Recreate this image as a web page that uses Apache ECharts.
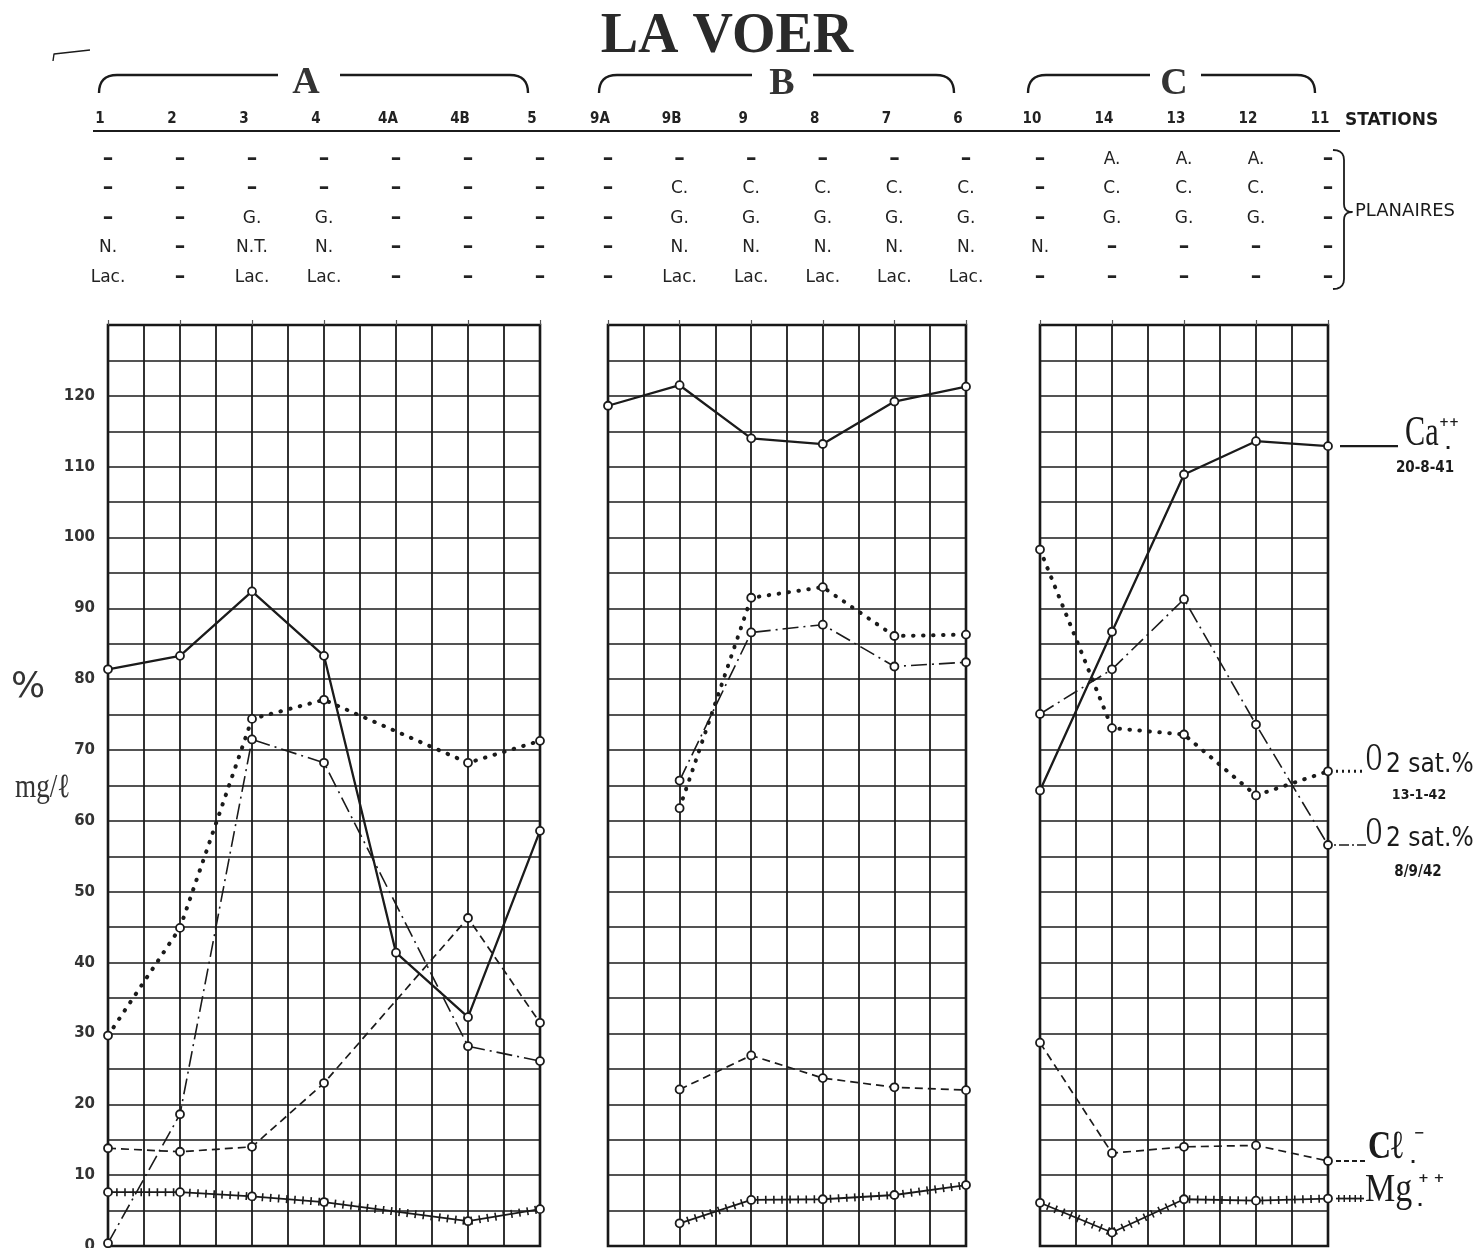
<!DOCTYPE html>
<html><head><meta charset="utf-8">
<script src="https://cdn.jsdelivr.net/npm/echarts@6/dist/echarts.min.js"></script>
<style>html,body{margin:0;padding:0;background:#fff;}#c{width:1476px;height:1248px;}</style>
</head><body><div id="c"></div>
<script>
// ---------------- DATA ----------------
const stationsA = ['1','2','3','4','4A','4B','5'];
const stationsB = ['9A','9B','9','8','7','6'];
const stationsC = ['10','14','13','12','11'];

// Planaires found at each station (5 rows)
const planairesA = [
  ['–','–','–','N.','Lac.'],
  ['–','–','–','–','–'],
  ['–','–','G.','N.T.','Lac.'],
  ['–','–','G.','N.','Lac.'],
  ['–','–','–','–','–'],
  ['–','–','–','–','–'],
  ['–','–','–','–','–']
];
const planairesB = [
  ['–','–','–','–','–'],
  ['–','C.','G.','N.','Lac.'],
  ['–','C.','G.','N.','Lac.'],
  ['–','C.','G.','N.','Lac.'],
  ['–','C.','G.','N.','Lac.'],
  ['–','C.','G.','N.','Lac.']
];
const planairesC = [
  ['–','–','–','N.','–'],
  ['A.','C.','G.','–','–'],
  ['A.','C.','G.','–','–'],
  ['A.','C.','G.','–','–'],
  ['–','–','–','–','–']
];

// Ca++ (20-8-41), mg/l
const caA = [81.4, 83.3, 92.4, 83.3, 41.4, 32.3, 58.6];
const caB = [118.6, 121.5, 114.0, 113.2, 119.2, 121.3];
const caC = [64.3, 86.7, 108.9, 113.6, 112.9];
// O2 sat.% (13-1-42)
const o2JanA = [29.7, 44.9, 74.4, 77.1, null, 68.2, 71.3];
const o2JanB = [null, 61.8, 91.5, 93.0, 86.1, 86.3];
const o2JanC = [98.3, 73.1, 72.2, 63.6, 67.0];
// O2 sat.% (8/9/42)
const o2SepA = [0.4, 18.6, 71.5, 68.2, null, 28.2, 26.1];
const o2SepB = [null, 65.7, 86.6, 87.7, 81.8, 82.4];
const o2SepC = [75.1, 81.4, 91.3, 73.6, 56.6];
// Cl-
const clA = [13.8, 13.3, 14.0, 23.0, null, 46.3, 31.5];
const clB = [null, 22.1, 26.9, 23.7, 22.4, 22.0];
const clC = [28.7, 13.1, 14.0, 14.2, 12.0];
// Mg++
const mgA = [7.6, 7.6, 7.0, 6.2, null, 3.5, 5.2];
const mgB = [null, 3.2, 6.5, 6.6, 7.2, 8.6];
const mgC = [6.1, 1.9, 6.6, 6.4, 6.7];

const yLabelValues = [0,10,20,30,40,50,60,70,80,90,100,110,120];

// ---------------- CHART ----------------
const INK = '#1b1b1b';
const panels = [
  {stations: stationsA, plan: planairesA, ca: caA, o2Jan: o2JanA, o2Sep: o2SepA, cl: clA, mg: mgA},
  {stations: stationsB, plan: planairesB, ca: caB, o2Jan: o2JanB, o2Sep: o2SepB, cl: clB, mg: mgB},
  {stations: stationsC, plan: planairesC, ca: caC, o2Jan: o2JanC, o2Sep: o2SepC, cl: clC, mg: mgC}
];
const gridBoxes = [
  {left: 108, width: 432},
  {left: 608, width: 358},
  {left: 1040, width: 288}
];

const pts = arr => arr.map((v, i) => v == null ? null : [i, v]).filter(Boolean);
const marker = {color: '#fff', borderColor: INK, borderWidth: 1.8};

const grid = [], xAxis = [], yAxis = [], series = [];
panels.forEach((p, k) => {
  const n = p.stations.length - 1;
  grid.push({left: gridBoxes[k].left, width: gridBoxes[k].width, top: 325, bottom: 2,
    outerBoundsMode: 'none', containLabel: false,
    show: true, borderColor: '#111', borderWidth: 2.6, backgroundColor: 'transparent'});
  // main axis: vertical grid every half station
  xAxis.push({gridIndex: k, type: 'value', min: 0, max: n, interval: 0.5, position: 'bottom',
    axisLine: {show: false}, axisTick: {show: false}, axisLabel: {show: false},
    splitLine: {show: true, lineStyle: {color: INK, width: 1.8}}});
  // station names
  xAxis.push({gridIndex: k, type: 'value', min: 0, max: n, interval: 1, position: 'top',
    axisLine: {show: false}, splitLine: {show: false},
    axisTick: {show: true, length: 5, lineStyle: {color: '#555', width: 1.2}},
    axisLabel: {margin: 198, color: '#222', fontSize: 15, fontWeight: 'bold',
      fontFamily: '"DejaVu Sans Condensed","DejaVu Sans",sans-serif',
      padding: [0, 16, 0, 0],
      formatter: v => p.stations[v] || ''}});
  // planaires rows
  xAxis.push({gridIndex: k, type: 'value', min: 0, max: n, interval: 1, position: 'top',
    axisLine: {show: false}, splitLine: {show: false}, axisTick: {show: false},
    axisLabel: {margin: 33, color: '#222',
      formatter: v => (p.plan[v] || []).map(t => t === '–' ? '{d|–}' : '{t|' + t + '}').join('\n'),
      rich: {
        d: {fontSize: 21, fontWeight: 'bold', lineHeight: 29.5, color: '#222', fontFamily: '"DejaVu Sans",sans-serif'},
        t: {fontSize: 17, lineHeight: 29.5, color: '#222', fontFamily: '"DejaVu Sans",sans-serif'}
      }}});
  yAxis.push({gridIndex: k, type: 'value', min: 0, max: 130, interval: 5,
    axisLine: {show: false}, axisTick: {show: false},
    axisLabel: {show: k === 0, margin: 13, color: '#333', fontSize: 15, fontWeight: 'bold',
      fontFamily: '"DejaVu Sans",sans-serif',
      formatter: v => yLabelValues.indexOf(v) >= 0 ? String(v) : ''},
    splitLine: {show: true, lineStyle: {color: INK, width: 1.5}}});

  const xi = 3 * k;
  const base = {type: 'line', xAxisIndex: xi, yAxisIndex: k, symbol: 'circle', symbolSize: 8,
    itemStyle: marker, z: 5, animation: false};
  series.push(Object.assign({}, base, {name: 'Ca++', data: pts(p.ca),
    lineStyle: {color: INK, width: 2.3}}));
  series.push(Object.assign({}, base, {name: 'O2 sat.% 13-1-42', data: pts(p.o2Jan),
    lineStyle: {color: INK, width: 4, type: [0.5, 9.5], cap: 'round'}}));
  series.push(Object.assign({}, base, {name: 'O2 sat.% 8/9/42', data: pts(p.o2Sep),
    lineStyle: {color: INK, width: 1.6, type: [16, 5, 2, 5]}}));
  series.push(Object.assign({}, base, {name: 'Cl-', data: pts(p.cl),
    lineStyle: {color: INK, width: 1.7, type: [8, 5]}}));
  series.push(Object.assign({}, base, {name: 'Mg++', data: pts(p.mg),
    lineStyle: {color: INK, width: 1.8}}));
  series.push({type: 'line', xAxisIndex: xi, yAxisIndex: k, data: pts(p.mg), symbol: 'none',
    silent: true, z: 4, animation: false,
    lineStyle: {color: INK, width: 8, type: [1.6, 6.5], cap: 'butt'}});
});

const chart = echarts.init(document.getElementById('c'));
chart.setOption({animation: false, backgroundColor: '#fff', grid, xAxis, yAxis, series});

// ---------------- DECORATION / LABELS ----------------
function txt(x, y, text, font, o) {
  o = o || {};
  return {type: 'text', x: x, y: y, z: 20, scaleX: o.sx || 1,
    style: {text: text, font: font, fill: o.fill || INK,
      align: o.align || 'left', verticalAlign: o.va || 'middle'}};
}
function quad(p0, p1, p2, n) {
  const out = [];
  for (let i = 0; i <= n; i++) {
    const t = i / n, a = (1 - t) * (1 - t), b = 2 * (1 - t) * t, c = t * t;
    out.push([a * p0[0] + b * p1[0] + c * p2[0], a * p0[1] + b * p1[1] + c * p2[1]]);
  }
  return out;
}
function poly(points, w, dash) {
  return {type: 'polyline', z: 20, shape: {points: points},
    style: {stroke: INK, lineWidth: w || 2.4, fill: null, lineDash: dash || null, lineJoin: 'round'}};
}
function lineEl(x1, y1, x2, y2, w, dash) {
  return {type: 'line', z: 20, shape: {x1, y1, x2, y2},
    style: {stroke: INK, lineWidth: w || 2, lineDash: dash || null, lineCap: 'butt'}};
}
function bracketLeft(x, y, xEnd) { return quad([x, y + 18], [x, y], [x + 18, y], 8).concat([[xEnd, y]]); }
function bracketRight(xStart, x, y) { return [[xStart, y]].concat(quad([x - 18, y], [x, y], [x, y + 18], 8)); }

const SERIF = '"Liberation Serif","DejaVu Serif",serif';
const SANS = '"DejaVu Sans",sans-serif';
const COND = '"DejaVu Sans Condensed","Liberation Sans Narrow","DejaVu Sans",sans-serif';

const g = [];
g.push(txt(727, 38, 'LA VOER', 'bold 56px ' + SERIF, {align: 'center', fill: '#2a2a2a'}));
g.push(poly([[53, 61], [54, 54], [90, 50]], 1.4));
// group brackets
g.push(poly(bracketLeft(99, 75, 278)));
g.push(poly(bracketRight(340, 528, 75)));
g.push(txt(306, 83, 'A', 'bold 38px ' + SERIF, {align: 'center', fill: '#333'}));
g.push(poly(bracketLeft(599, 75, 752)));
g.push(poly(bracketRight(813, 954, 75)));
g.push(txt(782, 84, 'B', 'bold 38px ' + SERIF, {align: 'center', fill: '#333'}));
g.push(poly(bracketLeft(1028, 75, 1150)));
g.push(poly(bracketRight(1201, 1315, 75)));
g.push(txt(1174, 84, 'C', 'bold 38px ' + SERIF, {align: 'center', fill: '#333'}));
// stations underline
g.push(lineEl(93, 131, 1340, 131, 2.2));
g.push(txt(1345, 121, 'STATIONS', 'bold 17px ' + SANS));
// planaires brace
const brace = quad([1333, 150], [1344, 150], [1344, 160], 5)
  .concat(quad([1344, 204], [1344, 212], [1352, 212], 5))
  .concat(quad([1352, 212], [1344, 212], [1344, 220], 5))
  .concat(quad([1344, 279], [1344, 289], [1333, 289], 5));
g.push(poly(brace, 1.8));
g.push(txt(1355, 211, 'PLANAIRES', '18px ' + SANS));
// y-axis units
g.push(txt(28, 688, '%', '36px ' + SANS, {align: 'center', fill: '#333'}));
g.push(txt(15, 788, 'mg/ℓ', '34px ' + SERIF, {fill: '#333', sx: 0.8}));

// right-side series labels, anchored on last points of panel C
const baseC = 12;
const lastPt = (si, arr) => chart.convertToPixel({seriesIndex: si}, [arr.length - 1, arr[arr.length - 1]]);
const pCa = lastPt(baseC, caC);
const pJan = lastPt(baseC + 1, o2JanC);
const pSep = lastPt(baseC + 2, o2SepC);
const pCl = lastPt(baseC + 3, clC);
const pMg = lastPt(baseC + 4, mgC);

// Ca
g.push(lineEl(pCa[0] + 12, pCa[1], pCa[0] + 70, pCa[1], 2.2));
g.push(txt(pCa[0] + 77, pCa[1] - 12, 'Ca', '42px ' + SERIF, {sx: 0.72}));
g.push(txt(pCa[0] + 111, pCa[1] - 23, '++', 'bold 12px ' + SANS));
g.push(txt(pCa[0] + 117, pCa[1] - 1, '.', 'bold 16px ' + SANS));
g.push(txt(pCa[0] + 97, pCa[1] + 22, '20-8-41', 'bold 15px ' + COND, {align: 'center'}));
// O2 13-1-42
g.push(lineEl(pJan[0] + 8, pJan[1], pJan[0] + 38, pJan[1], 3, [2, 4]));
g.push(txt(pJan[0] + 38, pJan[1] - 12, 'O', '40px ' + SERIF, {sx: 0.55}));
g.push(txt(pJan[0] + 58, pJan[1] - 6, '2 sat.%', '26px ' + COND));
g.push(txt(pJan[0] + 91, pJan[1] + 24, '13-1-42', 'bold 14px ' + COND, {align: 'center'}));
// O2 8/9/42
g.push(lineEl(pSep[0] + 6, pSep[1], pSep[0] + 38, pSep[1], 1.6, [2, 3, 10, 3]));
g.push(txt(pSep[0] + 38, pSep[1] - 12, 'O', '40px ' + SERIF, {sx: 0.55}));
g.push(txt(pSep[0] + 58, pSep[1] - 6, '2 sat.%', '26px ' + COND));
g.push(txt(pSep[0] + 90, pSep[1] + 27, '8/9/42', 'bold 15px ' + COND, {align: 'center'}));
// Cl
g.push(lineEl(pCl[0] + 8, pCl[1], pCl[0] + 38, pCl[1], 1.8, [5, 3]));
g.push(txt(pCl[0] + 40, pCl[1] - 13, 'Cℓ', 'bold 40px ' + SERIF, {sx: 0.8}));
g.push(txt(pCl[0] + 86, pCl[1] - 27, '−', 'bold 13px ' + SANS));
g.push(txt(pCl[0] + 82, pCl[1] - 2, '.', 'bold 16px ' + SANS));
// Mg
g.push(lineEl(pMg[0] + 8, pMg[1], pMg[0] + 36, pMg[1], 1.8));
g.push(lineEl(pMg[0] + 10, pMg[1], pMg[0] + 36, pMg[1], 7, [1.5, 4]));
g.push(txt(pMg[0] + 37, pMg[1] - 8, 'Mg', '40px ' + SERIF, {sx: 0.85}));
g.push(txt(pMg[0] + 90, pMg[1] - 20, '+ +', 'bold 13px ' + SANS));
g.push(txt(pMg[0] + 89, pMg[1] + 3, '.', 'bold 16px ' + SANS));

chart.setOption({graphic: {elements: g}});
</script>
</body></html>
